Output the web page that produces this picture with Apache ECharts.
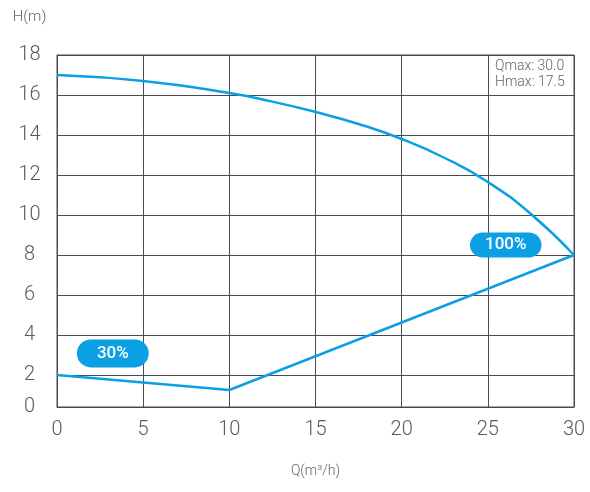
<!DOCTYPE html>
<html>
<head>
<meta charset="utf-8">
<script src="https://cdn.jsdelivr.net/npm/echarts@6/dist/echarts.min.js"></script>
<style>html,body{margin:0;padding:0;background:#fff}#c{width:590px;height:492px}</style>
</head>
<body>
<div id="c"></div>
<script>
// Full-speed (100%) curve
const qFull = [0, 5, 10, 12.5, 15, 17.5, 20, 22.5, 25, 27.5, 30];
const hFull = [17, 16.7, 16.1, 15.67, 15.15, 14.55, 13.8, 12.85, 11.65, 10.05, 8];
// Low (30%) line
const qLow = [0, 10, 30];
const hLow = [2, 1.25, 8];
// Axis ticks
const xTicks = [0, 5, 10, 15, 20, 25, 30];
const yTicks = [0.4, 2, 4, 6, 8, 10, 12, 14, 16, 18];
const yTickText = ['0', '2', '4', '6', '8', '10', '12', '14', '16', '18'];
// Curve tags
const tagText = ['100%', '30%'];
const tagQ = [26.04, 3.24];
const tagH = [8.5, 3.08];
const infoText = ['Qmax: 30.0', 'Hmax: 17.5'];

const blue = '#0b9fe3';
const gridColor = '#4a4a50';
const font = 'Roboto';

const chart = echarts.init(document.getElementById('c'));
const tagStyle = (pad) => ({
  show: true, position: 'inside', color: '#fff', fontFamily: font, fontSize: 17,
  fontWeight: 500, lineHeight: 17, backgroundColor: blue, borderRadius: 14, padding: pad,
  formatter: p => p.name
});
chart.setOption({
  animation: false,
  grid: { left: 57, right: 16, top: 55, bottom: 85, show: true, borderColor: gridColor, borderWidth: 1 },
  xAxis: {
    type: 'value', min: xTicks[0], max: xTicks[xTicks.length - 1], interval: 5,
    name: 'Q(m³/h)', nameLocation: 'middle', nameGap: 57,
    nameTextStyle: { color: '#666', fontSize: 14, fontFamily: font, fontWeight: 300 },
    axisLine: { lineStyle: { color: gridColor, width: 1 } },
    axisTick: { show: false },
    axisLabel: { color: '#5a5a5a', fontSize: 20, fontFamily: font, fontWeight: 300, margin: 13 },
    splitLine: { show: true, lineStyle: { color: gridColor, width: 1 } }
  },
  yAxis: {
    type: 'value', min: yTicks[0], max: yTicks[yTicks.length - 1],
    name: 'H(m)', nameLocation: 'end', nameGap: 30,
    nameTextStyle: { color: '#666', fontSize: 15, fontFamily: font, fontWeight: 300, align: 'center', padding: [0, 55, 0, 0] },
    axisLine: { show: true, lineStyle: { color: gridColor, width: 1 } },
    axisTick: { show: false, customValues: yTicks },
    axisLabel: {
      color: '#5a5a5a', fontSize: 20, fontFamily: font, fontWeight: 300, margin: 27.5, align: 'center',
      customValues: yTicks,
      formatter: v => { const i = yTicks.findIndex(t => Math.abs(t - v) < 1e-6); return i >= 0 ? yTickText[i] : ''; }
    },
    splitLine: { show: true, lineStyle: { color: gridColor, width: 1 } }
  },
  graphic: [{
    type: 'text', left: 495, top: 58, silent: true,
    style: { text: infoText.join('\n'), fill: '#666', fontSize: 14, lineHeight: 16, fontFamily: font, fontWeight: 300 }
  }],
  series: [
    {
      type: 'line', name: '100%', smooth: 0.5, symbol: 'none',
      lineStyle: { color: blue, width: 2.5 },
      data: qFull.map((q, i) => [q, hFull[i]]),
      markPoint: {
        symbol: 'circle', symbolSize: 0,
        label: tagStyle([4, 15]),
        data: [{ name: tagText[0], coord: [tagQ[0], tagH[0]] }]
      }
    },
    {
      type: 'line', name: '30%', smooth: false, symbol: 'none',
      lineStyle: { color: blue, width: 2.5 },
      data: qLow.map((q, i) => [q, hLow[i]]),
      markPoint: {
        symbol: 'circle', symbolSize: 0,
        label: tagStyle([5.5, 20]),
        data: [{ name: tagText[1], coord: [tagQ[1], tagH[1]] }]
      }
    }
  ]
});
</script>
</body>
</html>
